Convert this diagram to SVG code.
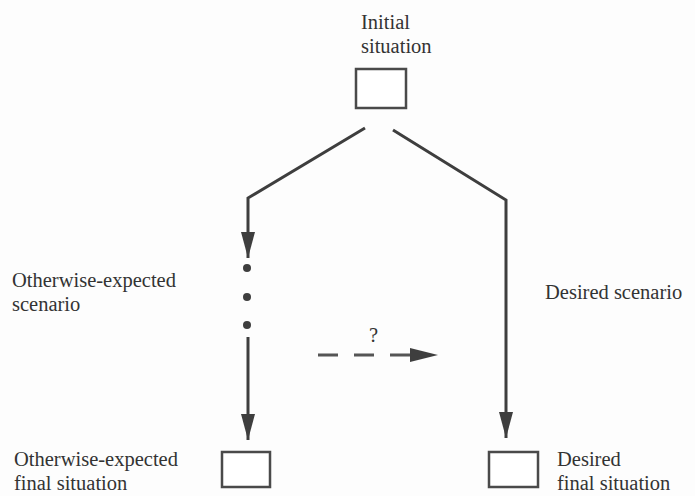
<svg xmlns="http://www.w3.org/2000/svg" width="695" height="496" viewBox="0 0 695 496">
<style>
.t{font-family:"Liberation Serif","Times New Roman",serif;font-size:20.5px;fill:#333}
.box{fill:#fff;stroke:#4a4a4a;stroke-width:2.5}
.ln{fill:none;stroke:#3e3e3e;stroke-width:3}
.dash{fill:none;stroke:#555;stroke-width:3;stroke-dasharray:20 16}
</style>
<defs>
<marker id="ah" markerUnits="userSpaceOnUse" markerWidth="28" markerHeight="16" refX="26" refY="7" orient="auto">
<path d="M0,0 L26,7 L0,14 Z" fill="#3e3e3e"/>
</marker>
</defs>
<rect width="695" height="496" fill="#fdfdfd"/>
<g id="initial">
<rect class="box" x="356" y="69" width="50" height="39"/>
<text class="t" x="361" y="29">Initial</text>
<text class="t" x="361" y="53">situation</text>
</g>
<g id="oe-final">
<rect class="box" x="222" y="452" width="48" height="35"/>
<text class="t" x="14" y="466">Otherwise-expected</text>
<text class="t" x="14" y="490">final situation</text>
</g>
<g id="desired-final">
<rect class="box" x="489" y="452" width="49" height="35"/>
<text class="t" x="557" y="466">Desired</text>
<text class="t" x="557" y="490">final situation</text>
</g>
<g id="oe-scenario">
<text class="t" x="12" y="287">Otherwise-expected</text>
<text class="t" x="12" y="311">scenario</text>
<circle cx="247" cy="268" r="4" fill="#3e3e3e"/>
<circle cx="247" cy="297" r="4" fill="#3e3e3e"/>
<circle cx="247" cy="325" r="4" fill="#3e3e3e"/>
</g>
<g id="desired-scenario">
<text class="t" x="545" y="299">Desired scenario</text>
</g>
<g id="connectors">
<polyline class="ln" points="365,128 248,198 248,258" marker-end="url(#ah)"/>
<line class="ln" x1="248" y1="337" x2="248" y2="440" marker-end="url(#ah)"/>
<polyline class="ln" points="393,130 506,200 506,438" marker-end="url(#ah)"/>
<line class="dash" x1="318" y1="355" x2="412" y2="355"/>
<path d="M410,348 L438,355 L410,362 Z" fill="#3e3e3e"/>
<text class="t" x="369" y="342">?</text>
</g>
</svg>
